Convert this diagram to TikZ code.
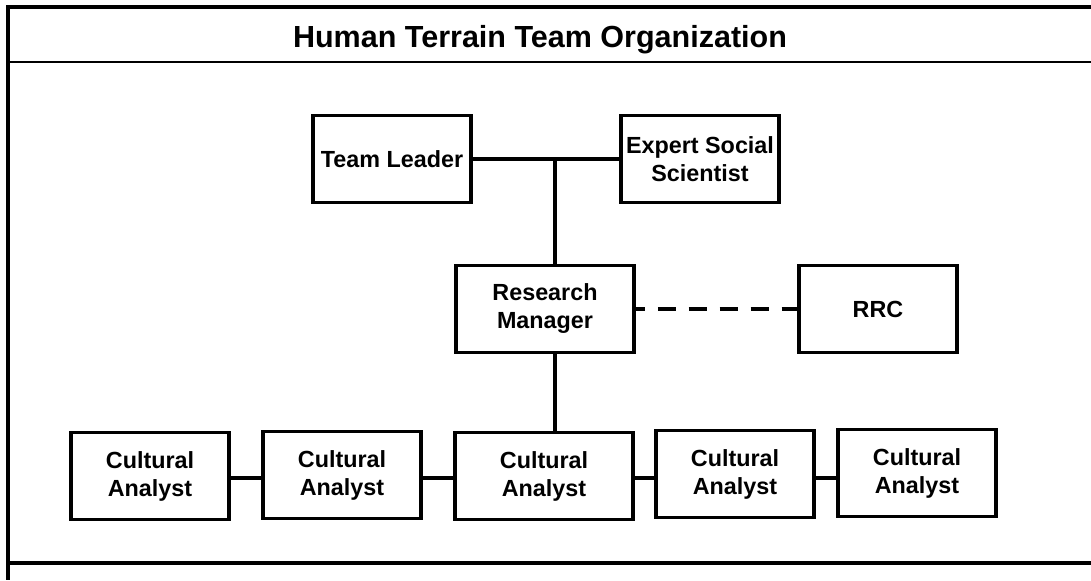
\documentclass[tikz,border=0pt]{standalone}
\usepackage{fontspec}
\setmainfont{Liberation Sans}
\begin{document}
\begin{tikzpicture}[x = 0.025cm, y = -0.025cm,
	unit/.style = {draw, line width = 2.6pt, minimum width = 3.95cm, minimum height = 2.17cm,
		inner sep = 0pt, align = center, font = \fontsize{16.6}{19.9}\selectfont\bfseries},
	wideunit/.style = {unit, minimum width = 4.45cm},
	link/.style = {line width = 2.6pt},
	frame/.style = {line width = 2.2pt}]
	\useasboundingbox (0, 0) rectangle (1091, 580);
	
	% frame and title
	\draw[frame] (1091, 7) -- (8, 7) -- (8, 580);
	\draw[frame, line width = 1.8pt] (8, 62) -- (1091, 62);
	\draw[frame] (8, 563) -- (1091, 563);
	\node[anchor = base, font = \fontsize{21.7}{24}\selectfont\bfseries] (title) at (540, 47) {Human Terrain Team Organization};
	
	\node[unit] (leader) at (392, 159) {Team Leader};
	\node[unit] (expert) at (700, 159) {Expert Social\\Scientist};
	\node[wideunit] (manager) at (545, 309) {Research\\Manager};
	\node[unit] (rrc) at (878, 309) {RRC};
	
	\node[unit] (analystA) at (150, 476) {Cultural\\Analyst};
	\node[unit] (analystB) at (342, 475) {Cultural\\Analyst};
	\node[wideunit] (analystC) at (544, 476) {Cultural\\Analyst};
	\node[unit] (analystD) at (735, 474) {Cultural\\Analyst};
	\node[unit] (analystE) at (917, 473) {Cultural\\Analyst};
	
	\coordinate (joint) at (555, 158);
	\draw[link] (leader) -- (expert);
	\draw[link] (joint) -- (joint |- manager.north);
	\draw[link] (manager.south -| joint) -- (joint |- analystC.north);
	\draw[link, dash pattern = on 12.8pt off 9.2pt, dash phase = 6.4pt] (manager.east) -- (rrc.west);
	
	\draw[link] (analystA.east |- 0, 478) -- (analystB.west |- 0, 478);
	\draw[link] (analystB.east |- 0, 478) -- (analystC.west |- 0, 478);
	\draw[link] (analystC.east |- 0, 478) -- (analystD.west |- 0, 478);
	\draw[link] (analystD.east |- 0, 478) -- (analystE.west |- 0, 478);
\end{tikzpicture}
\end{document}
